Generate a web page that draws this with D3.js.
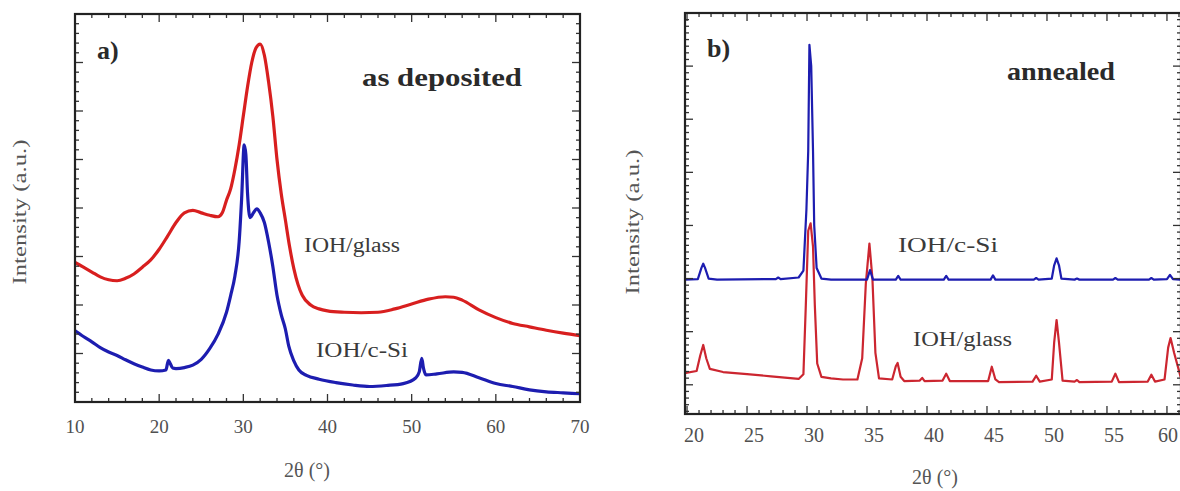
<!DOCTYPE html>
<html><head><meta charset="utf-8">
<script src="https://cdn.jsdelivr.net/npm/d3@7"></script>
<style>
html,body{margin:0;padding:0;background:#fff;}
svg{display:block;}
svg text{font-family:"Liberation Serif","Times New Roman",Tinos,serif;}
</style></head>
<body>
<svg id="chart" width="1180" height="491"></svg>
<script>
// ---------- Panel a) as deposited : [2theta, intensity (a.u.)] ----------
const aGlass = [[10,2.88],[11,2.78],[12,2.68],[13,2.58],[14,2.52],[15,2.5],[16,2.55],[17,2.64],[18,2.78],[19,2.93],[20,3.15],[21,3.42],[22,3.7],[23,3.9],[24,3.95],[25,3.9],[26,3.85],[27,3.82],[27.5,3.9],[28,4.16],[28.5,4.4],[29,4.8],[29.5,5.3],[30,5.9],[30.5,6.5],[31,7.0],[31.5,7.3],[32,7.38],[32.5,7.15],[33,6.6],[33.5,5.9],[34,5.0],[34.5,4.3],[35,3.75],[35.5,3.2],[36,2.75],[36.5,2.42],[37,2.2],[38,2.0],[39,1.92],[40,1.88],[42,1.85],[44,1.84],[46,1.85],[48,1.92],[50,2.02],[52,2.12],[54,2.17],[55,2.16],[56,2.1],[58,1.9],[60,1.74],[62,1.62],[64,1.55],[66,1.48],[68,1.42],[70,1.37]];
const aSi = [[10,1.47],[11,1.35],[12,1.24],[13,1.12],[14,1.03],[15,0.96],[16,0.87],[17,0.79],[18,0.72],[19,0.66],[20,0.64],[20.8,0.66],[21.1,0.86],[21.3,0.8],[21.6,0.7],[22,0.69],[23,0.71],[24,0.76],[25,0.88],[26,1.1],[27,1.4],[28,1.85],[28.5,2.2],[29,2.6],[29.5,3.3],[29.8,4.2],[30.1,5.3],[30.3,5.1],[30.5,4.3],[30.8,3.8],[31.2,3.9],[31.6,3.98],[32,3.9],[32.5,3.7],[33,3.3],[33.5,2.8],[34,2.2],[34.5,1.8],[35,1.5],[35.4,1.15],[36,0.85],[36.6,0.66],[37.5,0.55],[39,0.47],[41,0.4],[43,0.35],[45,0.32],[47,0.34],[49,0.38],[50.5,0.5],[50.9,0.62],[51.2,0.9],[51.4,0.7],[51.7,0.56],[53,0.58],[55,0.62],[56,0.61],[58,0.5],[60,0.38],[62,0.32],[64,0.25],[66,0.21],[68,0.19],[70,0.17]];

// ---------- Panel b) annealed ----------
const bSi = [[19.8,1.98],[20.9,1.99],[21.2,2.2],[21.35,2.28],[21.5,2.2],[21.8,2.0],[22.5,1.98],[27.4,1.99],[27.6,2.02],[27.8,1.99],[29.3,2.02],[29.7,2.15],[29.95,3.3],[30.1,4.4],[30.2,6.4],[30.35,6.0],[30.5,4.4],[30.6,3.0],[30.8,2.2],[31.2,2.0],[32,1.98],[35.0,1.98],[35.25,2.16],[35.5,1.98],[37.4,1.98],[37.6,2.05],[37.8,1.98],[41.4,1.98],[41.6,2.05],[41.8,1.98],[45.3,1.98],[45.5,2.06],[45.7,1.98],[48.9,1.98],[49.1,2.01],[49.3,1.98],[50.4,2.0],[50.6,2.25],[50.8,2.38],[51.0,2.25],[51.2,2.0],[52.3,1.98],[52.5,2.0],[52.7,1.98],[55.5,1.98],[55.7,2.01],[55.9,1.98],[58.5,1.98],[58.7,2.01],[58.9,1.98],[60.0,1.99],[60.25,2.07],[60.5,1.99],[61.2,1.98]];
const bGlass = [[19.8,0.22],[20.8,0.26],[21.1,0.55],[21.35,0.75],[21.6,0.5],[21.9,0.3],[23,0.24],[25,0.2],[27,0.16],[29.3,0.11],[29.7,0.2],[29.9,1.5],[30.1,2.9],[30.3,3.04],[30.5,2.6],[30.65,1.5],[30.85,0.4],[31.2,0.15],[32,0.12],[33,0.1],[34.2,0.1],[34.6,0.5],[34.9,1.9],[35.2,2.66],[35.45,2.0],[35.7,0.6],[36.0,0.12],[37.1,0.1],[37.4,0.35],[37.55,0.41],[37.8,0.15],[38.1,0.07],[39.4,0.08],[39.6,0.13],[39.8,0.07],[41.3,0.08],[41.6,0.21],[41.9,0.07],[45.1,0.07],[45.4,0.34],[45.7,0.1],[46,0.05],[48.8,0.06],[49.1,0.17],[49.4,0.06],[50.4,0.1],[50.6,0.8],[50.8,1.22],[51.0,0.8],[51.3,0.08],[52.3,0.06],[52.5,0.09],[52.7,0.05],[55.4,0.06],[55.7,0.21],[56,0.05],[58.4,0.06],[58.7,0.19],[59,0.06],[59.8,0.1],[60.1,0.7],[60.3,0.88],[60.6,0.6],[61.2,0.1]];

// tick labels
const aXTicks = [10,20,30,40,50,60,70];
const bXTicks = [20,25,30,35,40,45,50,55,60];
const aYMajor = [0,1,2,3,4,5,6,7,8];
const bYMajor = [0,1,2,3,4,5,6,7];

const FONT = "'Liberation Serif','Times New Roman',Tinos,serif";
const svg = d3.select("#chart");
const RED = "#d81f1f", BLUE = "#1d1db0";

function steps(lo, hi, st){
  const out = [];
  const n0 = Math.ceil(lo/st - 1e-6), n1 = Math.floor(hi/st + 1e-6);
  for(let n=n0;n<=n1;n++) out.push(+(n*st).toFixed(4));
  return out;
}

function panel(o){
  const x = d3.scaleLinear().domain(o.xd).range([o.l, o.r]);
  const y = d3.scaleLinear().domain(o.yd).range([o.b, o.t]);
  const g = svg.append("g").attr("font-family", FONT);
  const line = d3.line().x(d=>x(d[0])).y(d=>y(d[1])).curve(o.curve);
  o.series.forEach(s=>{
    g.append("path").datum(s.data).attr("d", line)
      .attr("fill","none").attr("stroke", s.color).attr("stroke-width", o.sw)
      .attr("stroke-linejoin","round");
  });
  const tk = g.append("g").attr("stroke","#333").attr("stroke-width",1.3);
  steps(o.xd[0], o.xd[1], o.xMinorStep).forEach(v=>{
    const maj = o.xTicks.some(t=>Math.abs(t-v)<1e-6);
    const L = maj?8:4;
    tk.append("line").attr("x1",x(v)).attr("x2",x(v)).attr("y1",o.b).attr("y2",o.b-L);
    tk.append("line").attr("x1",x(v)).attr("x2",x(v)).attr("y1",o.t).attr("y2",o.t+L);
  });
  steps(o.yd[0], o.yd[1], o.yMinorStep).forEach(v=>{
    const maj = o.yMajor.some(t=>Math.abs(t-v)<1e-6);
    const L = maj?8:4;
    tk.append("line").attr("y1",y(v)).attr("y2",y(v)).attr("x1",o.l).attr("x2",o.l+L);
    tk.append("line").attr("y1",y(v)).attr("y2",y(v)).attr("x1",o.r).attr("x2",o.r-L);
  });
  g.append("rect").attr("x",o.l).attr("y",o.t).attr("width",o.r-o.l).attr("height",o.b-o.t)
    .attr("fill","none").attr("stroke","#222").attr("stroke-width",2.2);
  g.selectAll(".xl").data(o.xTicks).join("text")
    .attr("x",d=>Math.min(x(d)+o.labDx, o.labMaxX))
    .attr("y",o.labY)
    .attr("text-anchor",d=>(x(d)+o.labDx>o.labMaxX)?"end":"middle")
    .attr("dx",d=>(x(d)+o.labDx>o.labMaxX)?10:0)
    .attr("font-size",o.labFs).attr("fill","#505050").text(d=>d);
  o.texts.forEach(t=>{
    const e = g.append("text").attr("x",t.x).attr("y",t.y).attr("font-size",t.fs)
      .attr("fill",t.fill||"#3a3a3a").attr("font-weight",t.bold?"bold":"normal").text(t.s);
    if(t.len) e.attr("textLength",t.len).attr("lengthAdjust","spacingAndGlyphs");
    if(t.rot){ e.attr("transform",`rotate(-90 ${t.x} ${t.y})`).attr("text-anchor","middle"); }
    if(t.mid) e.attr("text-anchor","middle");
  });
}

panel({
  xd:[10,70], yd:[0,8], l:75, r:580, t:14, b:402,
  curve:d3.curveMonotoneX, sw:3.2,
  series:[{data:aGlass,color:RED},{data:aSi,color:BLUE}],
  xTicks:aXTicks, xMinorStep:2, yMajor:aYMajor, yMinorStep:0.2,
  labY:433, labFs:19, labDx:0, labMaxX:2000,
  texts:[
    {s:"a)", x:97, y:59, fs:26, bold:true, fill:"#2a2a2a"},
    {s:"as deposited", x:362, y:86, fs:25, bold:true, len:160, fill:"#2a2a2a"},
    {s:"IOH/glass", x:304, y:252, fs:20, len:96},
    {s:"IOH/c-Si", x:316, y:357, fs:20, len:92},
    {s:"Intensity (a.u.)", x:26, y:212, fs:18, len:145, rot:true, fill:"#555"},
    {s:"2θ (°)", x:307, y:477, fs:20, mid:true, fill:"#555"}
  ]
});

panel({
  xd:[19.83,61.17], yd:[-0.55,7], l:685, r:1181, t:13, b:414,
  curve:d3.curveLinear, sw:2.2,
  series:[{data:bGlass,color:"#cc2630"},{data:bSi,color:BLUE}],
  xTicks:bXTicks, xMinorStep:1, yMajor:bYMajor, yMinorStep:0.125,
  labY:442, labFs:20, labDx:7, labMaxX:1168,
  texts:[
    {s:"b)", x:707, y:57, fs:26, bold:true, fill:"#2a2a2a"},
    {s:"annealed", x:1007, y:80, fs:25, bold:true, len:108, fill:"#2a2a2a"},
    {s:"IOH/c-Si", x:898, y:252, fs:20, len:100},
    {s:"IOH/glass", x:913, y:346, fs:20, len:99},
    {s:"Intensity (a.u.)", x:639, y:222, fs:18, len:145, rot:true, fill:"#555"},
    {s:"2θ (°)", x:935, y:484, fs:20, mid:true, fill:"#555"}
  ]
});
</script>
</body></html>
